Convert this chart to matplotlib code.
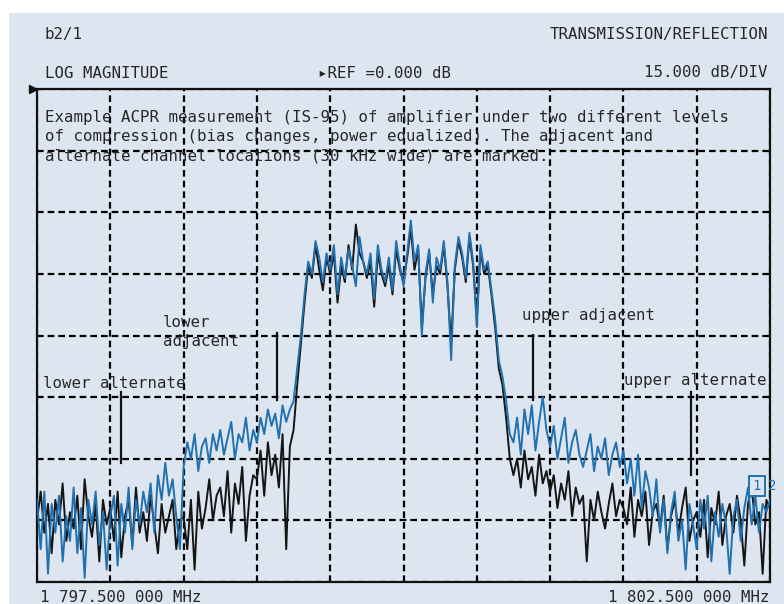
import matplotlib as mpl
mpl.use('Agg')
import matplotlib.pyplot as plt
import numpy as np
from matplotlib.patches import Rectangle

# sweep: 201 points from 1797.5 to 1802.5 MHz, 15 dB/div, ref 0 dB at top
f_start = 1797.5
f_stop = 1802.5
n_points = 201

blue_db = [
    -100, -112, -98, -118, -101, -108, -99, -115, -104, -110,
    -97, -113, -102, -119, -100, -106, -98, -111, -103, -117,
    -104, -99, -116, -101, -108, -97, -112, -100, -106, -98,
    -103, -96, -108, -94, -100, -91, -99, -95, -104, -112,
    -92, -86, -90, -84, -93, -87, -85, -91, -84, -88,
    -83, -89, -85, -81, -90, -84, -86, -80, -88, -83,
    -86, -80, -84, -78, -82, -79, -85, -77, -81, -78,
    -76, -68, -60, -50, -42, -45, -37, -41, -47, -40,
    -44, -38, -50, -41, -46, -39, -43, -48, -36, -42,
    -45, -40, -51, -38, -44, -47, -41, -49, -37, -43,
    -48, -40, -32, -42, -38, -60, -45, -39, -52, -41,
    -44, -37, -47, -66, -43, -36, -40, -46, -35, -42,
    -58, -38, -44, -42, -49, -56, -66, -70, -76, -84,
    -86, -80, -89, -78, -84, -77, -88, -81, -75, -83,
    -87, -82, -90, -85, -80, -91, -86, -83, -89, -92,
    -88, -84, -93, -87, -90, -85, -94, -89, -86, -92,
    -88, -96, -90, -99, -89, -102, -93, -97, -104, -95,
    -108, -100, -113, -103, -98, -110, -105, -117, -101, -106,
    -112, -100, -107, -99, -115, -103, -109, -101, -106, -118,
    -104, -100, -110, -102, -97, -106, -99, -108, -101, -103, -100,
]

black_db = [
    -105, -98, -108, -101, -113, -100, -106, -96, -110, -103,
    -107, -99, -112, -95, -104, -109, -101, -115, -100, -106,
    -102, -110, -98, -114, -104, -100, -111, -97, -108, -103,
    -110, -99, -106, -113, -101, -108, -104, -100, -112, -105,
    -104, -112, -100, -117, -98, -107, -102, -95, -105, -99,
    -97, -104, -93, -108, -96, -101, -92, -110, -99, -94,
    -95, -88, -99, -86, -94, -89, -97, -84, -112, -87,
    -83, -72, -62, -52, -43, -46, -38, -44, -49, -41,
    -45, -40, -52, -43, -47, -38, -44, -33, -40, -42,
    -46, -42, -53, -40, -45, -48, -43, -50, -39, -44,
    -47, -41, -34, -44, -39, -58, -46, -40, -50, -43,
    -45, -38, -48, -62, -44, -37, -41, -47, -36, -43,
    -56, -39, -45, -43, -50, -58, -68, -72, -80, -90,
    -94, -90, -97, -88, -95, -92, -99, -89, -96, -93,
    -98, -94, -102, -96, -100, -93, -104, -97, -101, -99,
    -115, -100, -105, -98, -103, -107, -101, -96, -104, -100,
    -102, -106, -97, -109, -100, -104, -98, -111, -103, -101,
    -107, -99, -112, -104, -100, -108, -102, -97, -110, -105,
    -103, -109, -100, -114, -102, -106, -98, -111, -104, -101,
    -108, -99, -105, -116, -101, -97, -106, -103, -118, -100, -102,
]

# channel markers (MHz) and their vertical extent (dB)
marker_freqs = [1798.07, 1799.14, 1800.88, 1801.96]
marker_top = [-73.8, -59.4, -59.9, -73.8]
marker_bottom = [-91.1, -75.7, -75.7, -94.0]

freqs = np.linspace(f_start, f_stop, n_points)

bg = '#dde6f0'
txt_col = '#262626'
mono = 'DejaVu Sans Mono'

W, H = 784, 604
fig = plt.figure(figsize=(W / 100, H / 100), dpi=100)
fig.patch.set_facecolor('white')
fig.patches.append(Rectangle((9 / W, 0), 1 - 9 / W, 1 - 13 / H,
                             transform=fig.transFigure, facecolor=bg,
                             edgecolor='none', zorder=-5))

def fx(px):
    return px / W

def fy(py):
    return 1 - py / H

ax = fig.add_axes([fx(37), fy(582), fx(770) - fx(37), fy(89) - fy(582)])
ax.set_zorder(2)
ax.set_facecolor(bg)
ax.set_xlim(f_start, f_stop)
ax.set_ylim(-120, 0)
ax.set_xticks(np.linspace(f_start, f_stop, 11))
ax.set_yticks(np.arange(-120, 1, 15))
ax.tick_params(length=0, labelbottom=False, labelleft=False)
ax.grid(True, color='black', linestyle=(0, (3, 1.8)), linewidth=1.6)
for s in ax.spines.values():
    s.set_linewidth(1.6)
    s.set_color('#111111')

ax.plot(freqs, black_db, color='#151515', linewidth=1.4, zorder=3)
ax.plot(freqs, blue_db, color='#2171b0', linewidth=1.4, zorder=4)

for f, t, b in zip(marker_freqs, marker_top, marker_bottom):
    ax.plot([f, f], [b, t], color='#111111', linewidth=1.6, zorder=5)

# ref marker at top left
ax.plot([-0.006], [1.0], marker='>', color='#111111', markersize=6,
        transform=ax.transAxes, clip_on=False)

fs = 11.3
fig.text(fx(45), fy(35), 'b2/1', family=mono, fontsize=fs, color=txt_col, va='center')
fig.text(fx(768), fy(35), 'TRANSMISSION/REFLECTION', family=mono, fontsize=fs,
         color=txt_col, va='center', ha='right')
fig.text(fx(45), fy(73), 'LOG MAGNITUDE', family=mono, fontsize=fs, color=txt_col, va='center')
fig.text(fx(318), fy(73), '\u25b8REF =0.000 dB', family=mono, fontsize=fs,
         color=txt_col, va='center')
fig.text(fx(768), fy(73), '15.000 dB/DIV', family=mono, fontsize=fs, color=txt_col,
         va='center', ha='right')

note = ('Example ACPR measurement (IS-95) of amplifier under two different levels\n'
        'of compression (bias changes, power equalized). The adjacent and\n'
        'alternate channel locations (30 kHz wide) are marked.')
fig.text(fx(45), fy(110), note, family=mono, fontsize=fs, color=txt_col,
         va='top', linespacing=1.34, zorder=6)

fig.text(fx(43), fy(383), 'lower alternate', family=mono, fontsize=fs, color=txt_col,
         va='center', zorder=6)
fig.text(fx(163), fy(332), 'lower\nadjacent', family=mono, fontsize=fs, color=txt_col,
         va='center', linespacing=1.3, zorder=6)
fig.text(fx(522), fy(315), 'upper adjacent', family=mono, fontsize=fs, color=txt_col,
         va='center', zorder=6)
fig.text(fx(624), fy(380), 'upper alternate', family=mono, fontsize=fs, color=txt_col,
         va='center', zorder=6)

fig.text(fx(40), fy(597), '1 797.500 000 MHz', family=mono, fontsize=fs, color=txt_col, va='center')
fig.text(fx(770), fy(597), '1 802.500 000 MHz', family=mono, fontsize=fs, color=txt_col,
         va='center', ha='right')

# marker label box
fig.text(fx(757), fy(486), '1', family=mono, fontsize=10, color='#2171b0', ha='center',
         va='center', zorder=6,
         bbox=dict(boxstyle='square,pad=0.25', facecolor=bg,
                   edgecolor='#2171b0', linewidth=1.4))
fig.text(fx(768), fy(486), '2', family=mono, fontsize=10, color='#2171b0', va='center',
         zorder=6)

fig.savefig('out.png', dpi=100, facecolor='white')
